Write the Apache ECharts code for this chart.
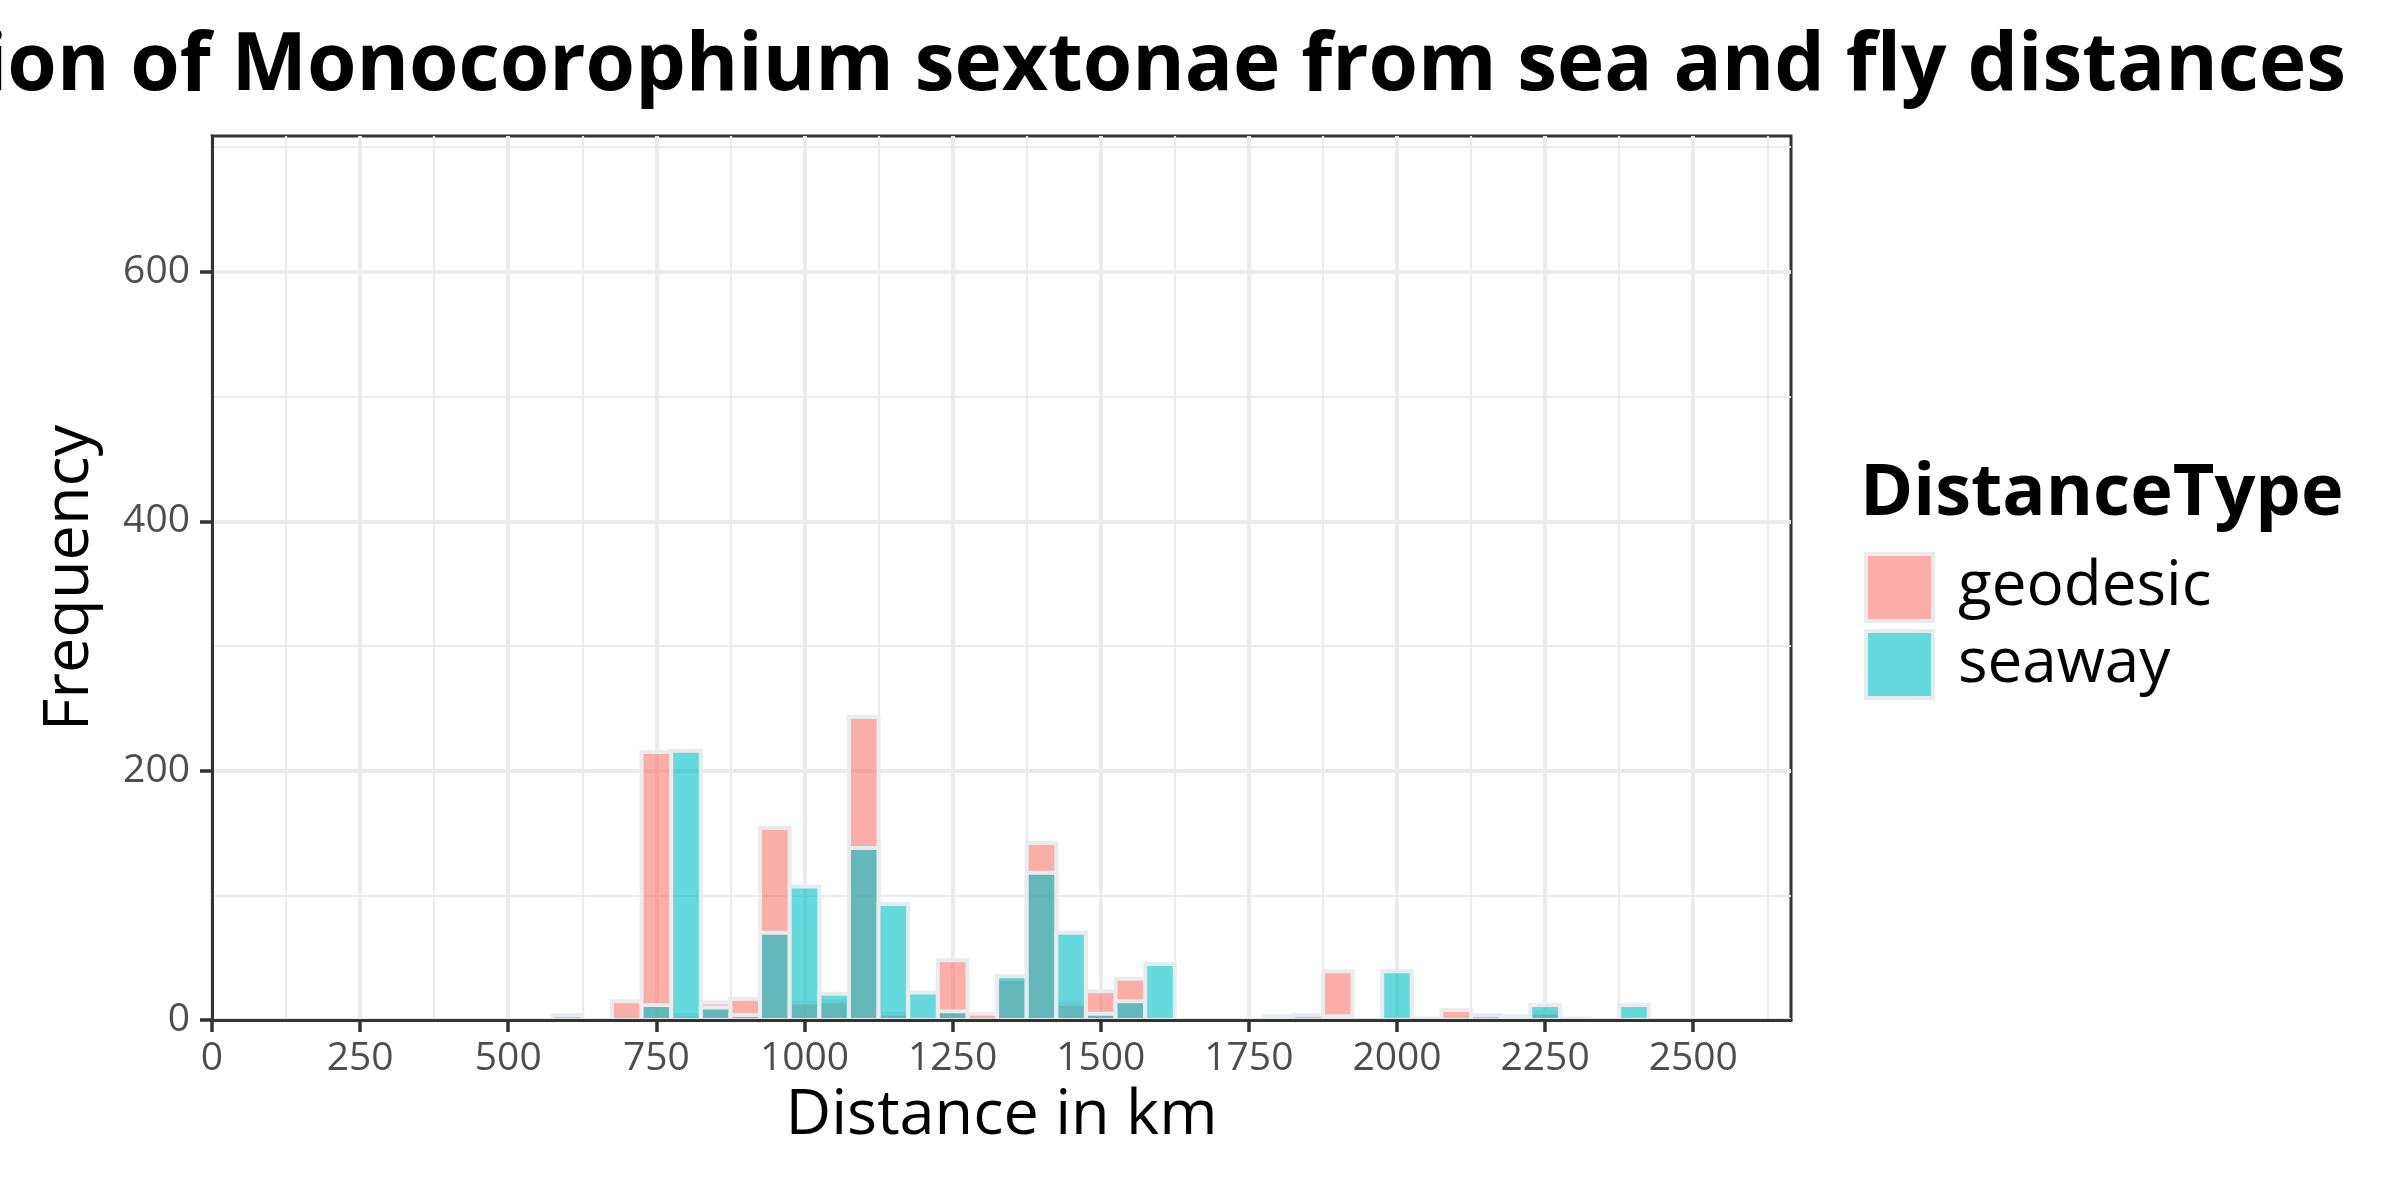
<!DOCTYPE html>
<html>
<head>
<meta charset="utf-8">
<script src="https://cdn.jsdelivr.net/npm/echarts@6/dist/echarts.min.js"></script>
<style>
  html, body { margin: 0; padding: 0; background: #ffffff; }
  #chart { width: 2400px; height: 1200px; }
</style>
</head>
<body>
<div id="chart"></div>
<script>
// ---- data (histogram, bin width 50 km, bins centred on multiples of 50) ----
const binCenters = [600, 650, 700, 750, 800, 850, 900, 950, 1000, 1050, 1100, 1150, 1200, 1250, 1300, 1350, 1400, 1450, 1500, 1550, 1600, 1650, 1700, 1750, 1800, 1850, 1900, 1950, 2000, 2050, 2100, 2150, 2200, 2250, 2300, 2350, 2400];
const geodesic   = [4, 0, 15, 215, 4, 14, 17, 154, 14, 15, 243, 5, 0, 48, 5, 33, 142, 13, 23, 33, 0, 0, 0, 0, 3, 0, 39, 0, 0, 1, 8, 0, 0, 6, 1, 0, 0];
const seaway     = [0, 0, 0, 12, 216, 10, 4, 70, 107, 21, 138, 93, 22, 7, 0, 35, 118, 70, 5, 15, 45, 0, 0, 0, 0, 4, 3, 0, 39, 1, 0, 4, 3, 12, 1, 0, 12];
const binWidth = 50;
const seriesNames = ['geodesic', 'seaway'];
const xMajorTicks = [0, 250, 500, 750, 1000, 1250, 1500, 1750, 2000, 2250, 2500];
const xMinorTicks = [125, 375, 625, 875, 1125, 1375, 1625, 1875, 2125, 2375, 2625];
const yMajorTicks = [0, 200, 400, 600];
const yMinorTicks = [100, 300, 500, 700];
const xLimits = [0, 2665];
const yLimits = [0, 709];
const titleText = 'Distribution of Monocorophium sextonae from sea and fly distances';
const xTitle = 'Distance in km';
const yTitle = 'Frequency';
const legendTitle = 'DistanceType';

// ---- styles ----
const FONT = '"Open Sans", "Noto Sans", sans-serif';
const fills = ['rgba(248,118,109,0.6)', 'rgba(0,191,196,0.6)'];
const outline = '#E9ECEF';
const gridCol = '#EBEBEB';
const darkCol = '#333333';

function pairs(vals) { return binCenters.map((c, i) => [c, vals[i]]); }
function plainNumber(v) { return String(v); }

function renderBar(params, api) {
  const x = api.value(0), y = api.value(1);
  if (!y) return null;
  const p0 = api.coord([x - binWidth / 2, y]);
  const p1 = api.coord([x + binWidth / 2, 0]);
  return {
    type: 'rect',
    shape: { x: p0[0], y: p0[1], width: p1[0] - p0[0], height: p1[1] - p0[1] },
    style: { fill: fills[params.seriesIndex], stroke: outline, lineWidth: 4 }
  };
}

const hiddenAxisBits = { axisLine: { show: false }, axisLabel: { show: false }, axisTick: { show: false } };

const option = {
  backgroundColor: '#ffffff',
  animation: false,
  title: [
    {
      text: titleText, right: 54, top: 27, padding: 0,
      textStyle: { fontFamily: FONT, fontWeight: 'bold', fontSize: 80, color: '#000' }
    },
    {
      text: legendTitle, left: 1860, top: 458, padding: 0,
      textStyle: { fontFamily: FONT, fontWeight: 'bold', fontSize: 72, color: '#000' }
    }
  ],
  legend: {
    orient: 'vertical', left: 1864, top: 552, padding: 0,
    itemWidth: 67, itemHeight: 67, itemGap: 6, icon: 'rect',
    data: seriesNames,
    itemStyle: { borderColor: outline, borderWidth: 4 },
    textStyle: { fontFamily: FONT, fontSize: 62, color: '#000', padding: [0, 0, 0, 20] }
  },
  grid: {
    left: 212, right: 609, top: 136, bottom: 180,
    show: true, borderColor: darkCol, borderWidth: 3, backgroundColor: '#fff'
  },
  xAxis: [
    {
      type: 'value', min: xLimits[0], max: xLimits[1], position: 'bottom', z: 10,
      name: xTitle, nameLocation: 'middle', nameGap: 65,
      nameTextStyle: { fontFamily: FONT, fontSize: 63, color: '#000' },
      axisLine: { show: true, onZero: false, lineStyle: { color: darkCol, width: 3 } },
      axisTick: { show: true, length: 12, customValues: xMajorTicks, lineStyle: { color: darkCol, width: 3.5 } },
      axisLabel: { customValues: xMajorTicks, formatter: plainNumber, margin: 19, fontFamily: FONT, fontSize: 39, color: '#4D4D4D' },
      splitLine: { show: false }
    },
    Object.assign({
      type: 'value', min: xLimits[0], max: xLimits[1], position: 'bottom', z: 0,
      splitLine: { show: true, lineStyle: { color: gridCol, width: 4 } }
    }, hiddenAxisBits, { axisTick: { show: false, customValues: xMajorTicks }, axisLabel: { show: false, customValues: xMajorTicks } }),
    Object.assign({
      type: 'value', min: xLimits[0], max: xLimits[1], position: 'bottom', z: 0,
      splitLine: { show: true, lineStyle: { color: gridCol, width: 2.2 } }
    }, hiddenAxisBits, { axisTick: { show: false, customValues: xMinorTicks }, axisLabel: { show: false, customValues: xMinorTicks } })
  ],
  yAxis: [
    {
      type: 'value', min: yLimits[0], max: yLimits[1], position: 'left', z: 10,
      name: yTitle, nameLocation: 'middle', nameGap: 110, nameRotate: 90,
      nameTextStyle: { fontFamily: FONT, fontSize: 63, color: '#000' },
      axisLine: { show: true, onZero: false, lineStyle: { color: darkCol, width: 3 } },
      axisTick: { show: true, length: 12, customValues: yMajorTicks, lineStyle: { color: darkCol, width: 3.5 } },
      axisLabel: { customValues: yMajorTicks, formatter: plainNumber, margin: 22, fontFamily: FONT, fontSize: 39, color: '#4D4D4D' },
      splitLine: { show: false }
    },
    Object.assign({
      type: 'value', min: yLimits[0], max: yLimits[1], position: 'left', z: 0,
      splitLine: { show: true, lineStyle: { color: gridCol, width: 4 } }
    }, hiddenAxisBits, { axisTick: { show: false, customValues: yMajorTicks }, axisLabel: { show: false, customValues: yMajorTicks } }),
    Object.assign({
      type: 'value', min: yLimits[0], max: yLimits[1], position: 'left', z: 0,
      splitLine: { show: true, lineStyle: { color: gridCol, width: 2.2 } }
    }, hiddenAxisBits, { axisTick: { show: false, customValues: yMinorTicks }, axisLabel: { show: false, customValues: yMinorTicks } })
  ],
  series: [
    {
      name: seriesNames[0], type: 'custom', renderItem: renderBar, clip: true, z: 2,
      xAxisIndex: 0, yAxisIndex: 0,
      itemStyle: { color: fills[0] },
      encode: { x: 0, y: 1 },
      data: pairs(geodesic)
    },
    {
      name: seriesNames[1], type: 'custom', renderItem: renderBar, clip: true, z: 2,
      xAxisIndex: 0, yAxisIndex: 0,
      itemStyle: { color: fills[1] },
      encode: { x: 0, y: 1 },
      data: pairs(seaway)
    }
  ]
};

const chart = echarts.init(document.getElementById('chart'), null, { renderer: 'canvas' });
chart.setOption(option);
</script>
</body>
</html>
